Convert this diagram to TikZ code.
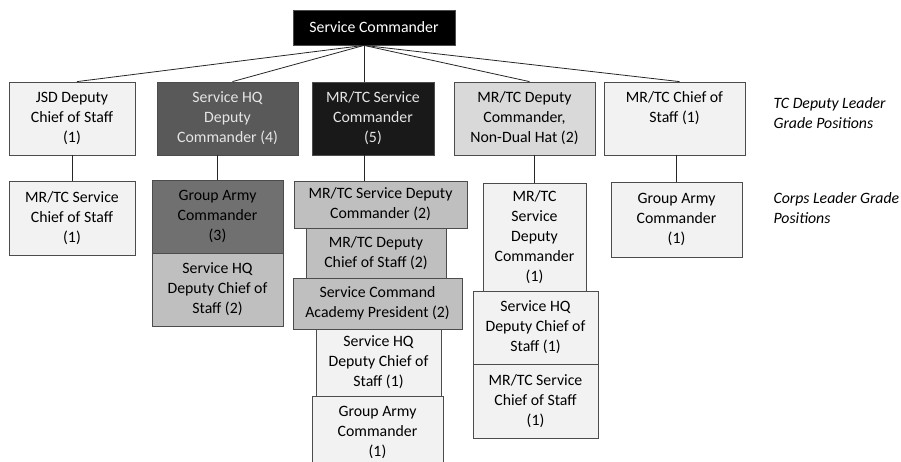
\documentclass[tikz,border=0pt]{standalone}
\usepackage{fontspec}
\setmainfont{Carlito}
\usetikzlibrary{positioning}

\begin{document}
\begin{tikzpicture}[
  x=1pt, y=-1pt, font=\fontsize{15.8}{20}\selectfont,
  box/.style={draw=black!70, line width=0.8pt, align=center, inner sep=2pt},
  lightbox/.style={box, fill=black!5},
  greybox/.style={box, fill=black!25},
  palebox/.style={box, fill=black!15},
  slatebox/.style={box, fill=black!56},
  darkbox/.style={box, fill=black!65, text=black!10},
  blackbox/.style={box, fill=black!90, text=black!10},
  tierlabel/.style={align=left, anchor=west, font=\fontsize{15.8}{20}\selectfont\itshape},
  link/.style={draw=black!85, line width=0.8pt},
]
  \useasboundingbox (0,0) rectangle (901,462);

  \node[box, fill=black, text=white, minimum width=162pt, minimum height=35pt] (top) at (374,27.5) {Service Commander};
  \coordinate (hub) at ([xshift=-10pt]top.south);

  \node[lightbox, minimum width=126pt, minimum height=73pt] (jsd) at (72,118.5) {JSD Deputy\\Chief of Staff\\(1)};
  \node[darkbox, minimum width=141pt, minimum height=73pt] (hqdc) at (227.5,118.5) {Service HQ\\Deputy\\Commander (4)};
  \node[blackbox, minimum width=122pt, minimum height=73pt] (mrsc) at (373,118.5) {MR/TC Service\\Commander\\(5)};
  \node[palebox, minimum width=141pt, minimum height=73pt] (mrdc) at (524.5,118.5) {MR/TC Deputy\\Commander,\\Non-Dual Hat (2)};
  \node[lightbox, minimum width=141pt, minimum height=73pt] (mrcs) at (674.5,118.5) {MR/TC Chief of\\Staff (1)\\\phantom{(1)}};

  \node[lightbox, minimum width=126pt, minimum height=74pt] (jsdsub) at (72,218) {MR/TC Service\\Chief of Staff\\(1)};

  \node[slatebox, minimum width=131pt, minimum height=73pt] (hqsub1) at (217.5,216.5) {Group Army\\Commander\\(3)};
  \node[greybox, minimum width=131pt, minimum height=73pt] (hqsub2) at (217.5,289.5) {Service HQ\\Deputy Chief of\\Staff (2)};

  \node[greybox, minimum width=173pt, minimum height=47pt] (mrsub1) at (380.5,204.5) {MR/TC Service Deputy\\Commander (2)};
  \node[greybox, minimum width=140pt, minimum height=50pt] (mrsub2) at (376,253) {MR/TC Deputy\\Chief of Staff (2)};
  \node[greybox, minimum width=169pt, minimum height=51pt] (mrsub3) at (377.5,303.5) {Service Command\\Academy President (2)};
  \node[lightbox, minimum width=125pt, minimum height=67pt] (mrsub4) at (378.5,362.5) {Service HQ\\Deputy Chief of\\Staff (1)};
  \node[lightbox, minimum width=131pt, minimum height=72pt] (mrsub5) at (377.5,432) {Group Army\\Commander\\(1)};

  \node[lightbox, minimum width=103pt, minimum height=108pt] (dcsub1) at (534.5,237) {MR/TC\\Service\\Deputy\\Commander\\(1)};
  \node[lightbox, minimum width=125pt, minimum height=73pt] (dcsub2) at (535.5,327.5) {Service HQ\\Deputy Chief of\\Staff (1)};
  \node[lightbox, minimum width=125pt, minimum height=74pt] (dcsub3) at (535.5,401) {MR/TC Service\\Chief of Staff\\(1)};

  \node[lightbox, minimum width=131pt, minimum height=75pt] (cssub) at (676.5,219.5) {Group Army\\Commander\\(1)};

  \node[tierlabel] (tclabel) at (770,113.5) {TC Deputy Leader\\Grade Positions};
  \node[tierlabel] (corpslabel) at (770,208.5) {Corps Leader Grade\\Positions};

  \foreach \n in {jsd,hqdc,mrdc,mrcs}
    \draw[link] (hub) -- ([xshift=5pt]\n.north);
  \draw[link] (hub) -- (hub |- mrsc.north);
  \draw[link] (jsd.south) -- (jsdsub.north);
  \draw[link] (hqsub1.north |- hqdc.south) -- (hqsub1.north);
  \draw[link] (hub |- mrsc.south) -- (hub |- mrsub1.north);
  \draw[link] (dcsub1.north |- mrdc.south) -- (dcsub1.north);
  \draw[link] (cssub.north |- mrcs.south) -- (cssub.north);
\end{tikzpicture}
\end{document}
